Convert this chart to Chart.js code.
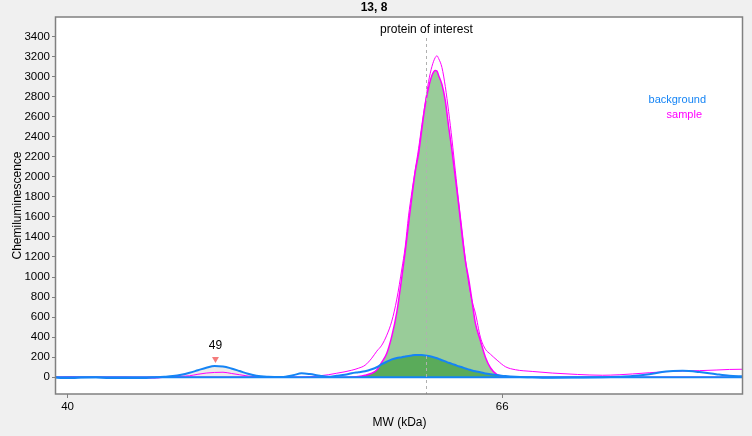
<!DOCTYPE html>
<html>
<head>
<meta charset="utf-8">
<script src="https://cdn.jsdelivr.net/npm/chart.js@4.4.1/dist/chart.umd.min.js"></script>
<style>
  html, body { margin: 0; padding: 0; background: #f0f0f0; }
  #wrap { width: 752px; height: 436px; position: relative; }
</style>
</head>
<body>
<div id="wrap"><canvas id="c"></canvas></div>
<script>
// ---- data ----
const chartTitle = '13, 8';
const poiLabel = 'protein of interest';
const poiMW = 61.47;
const legendLabels = ['background', 'sample'];
const xTicks = [40, 66];
const yTicks = [0, 200, 400, 600, 800, 1000, 1200, 1400, 1600, 1800, 2000, 2200, 2400, 2600, 2800, 3000, 3200, 3400];
const xRange = [39.31, 80.41];
const yRange = [-167, 3594];

const mw = [39.3, 39.7, 40.3, 40.8, 41.7, 42.5, 43.5, 44.7, 45.3, 45.8, 46.3, 46.8, 47.3, 47.8, 48.3, 48.8, 49.3, 49.8, 50.3, 50.8,
  51.3, 52.0, 52.8, 53.5, 54.0, 54.5, 55.1, 55.6, 56.1, 56.6, 57.0, 57.4, 57.8, 58.2, 58.5, 58.8, 59.1, 59.4, 59.7, 60.0,
  60.2, 60.4, 60.6, 60.8, 61.0, 61.2, 61.4, 61.6, 61.8, 62.0, 62.1, 62.2, 62.4, 62.6, 62.8, 63.0, 63.2, 63.4, 63.6, 63.8,
  64.0, 64.2, 64.4, 64.7, 65.0, 65.3, 65.7, 66.2, 66.8, 67.8, 69.0, 70.5, 72.0, 73.0, 73.8, 74.8, 75.8, 76.8, 77.8, 78.8,
  79.6, 80.4];

const sampleValues = [0, 2, 5, 0, 0, 0, 0, -8, -8, 0, 5, 10, 15, 30, 42, 48, 50, 38, 25, 12,
  5, 2, 0, 0, 0, 5, 15, 25, 40, 55, 70, 90, 120, 190, 260, 320, 420, 560, 780, 1080,
  1300, 1610, 1850, 2070, 2280, 2520, 2740, 2950, 3100, 3190, 3207, 3180, 3090, 2900, 2650, 2370, 2060, 1750, 1470, 1180,
  940, 760, 640, 400, 280, 230, 170, 105, 75, 58, 42, 28, 20, 25, 33, 45, 56, 62, 66, 72,
  78, 80];

const fitValues = [0, 0, 0, 0, 0, 0, 0, 0, 0, 0, 0, 0, 0, 0, 0, 0, 0, 0, 0, 0,
  0, 0, 0, 0, 0, 0, 0, 0, 0, 0, 3, 8, 20, 40, 73, 150, 240, 410, 650, 1000,
  1250, 1530, 1800, 2050, 2230, 2480, 2720, 2890, 3010, 3060, 3055, 3010, 2920, 2760, 2500, 2260, 1990, 1720, 1420, 1160,
  980, 760, 540, 365, 200, 95, 25, 5, 0, 0, 0, 0, 0, 0, 0, 0, 0, 0, 0, 0,
  0, 0];

const backgroundValues = [-3, -8, -8, -3, 0, -8, -8, -8, 0, 5, 12, 25, 45, 70, 95, 112, 108, 88, 62, 35,
  15, 5, 2, 20, 40, 32, 15, 5, 15, 25, 40, 50, 60, 80, 100, 130, 155, 178, 192, 200,
  207, 213, 218, 222, 223, 222, 218, 212, 204, 195, 190, 184, 170, 158, 145, 133, 122, 110, 100, 88,
  78, 68, 60, 50, 38, 30, 22, 12, 5, 0, -5, -3, 0, 5, 12, 30, 58, 64, 52, 30,
  15, 10];

const baselineMW = [39.31, 80.41];
const baselineValues = [0, 0];
const peak49Range = [45.3, 52.8];
const markerMW = [48.85];
const markerValues = [183];
const markerLabels = ['49'];

// ---- build library data ----
const pts = (xs, ys) => xs.map((x, i) => ({ x: x, y: ys[i] }));
const darkGreen = mw.map((x, i) => ({ x: x, y: Math.max(0, Math.min(fitValues[i], backgroundValues[i])) }));
const grey49 = mw.map((x, i) => ({ x: x, y: backgroundValues[i] })).filter(p => p.x >= peak49Range[0] && p.x <= peak49Range[1]);

const BLUE = '#1584f5';
const MAGENTA = '#ff00ff';
const FONT = "'Liberation Sans', Arial, sans-serif";

const deco = {
  id: 'deco',
  beforeDraw(chart) {
    const { ctx, chartArea: a } = chart;
    ctx.save();
    ctx.fillStyle = '#f0f0f0';
    ctx.fillRect(0, 0, chart.width, chart.height);
    ctx.fillStyle = '#ffffff';
    ctx.fillRect(a.left, a.top, a.right - a.left, a.bottom - a.top);
    ctx.restore();
  },
  afterDatasetsDraw(chart) {
    const { ctx, chartArea: a, scales } = chart;
    const px = scales.x.getPixelForValue(poiMW);
    ctx.save();
    ctx.strokeStyle = '#b0b0b0';
    ctx.lineWidth = 1;
    ctx.setLineDash([3, 3]);
    ctx.beginPath();
    ctx.moveTo(Math.round(px) + 0.5, a.top + 21);
    ctx.lineTo(Math.round(px) + 0.5, a.bottom);
    ctx.stroke();
    ctx.restore();
  },
  afterDraw(chart) {
    const { ctx, chartArea: a, scales } = chart;
    ctx.save();
    ctx.strokeStyle = '#808080';
    ctx.lineWidth = 1.5;
    ctx.strokeRect(a.left - 0.5, a.top, a.right - a.left, a.bottom - a.top);
    ctx.textAlign = 'center';
    ctx.textBaseline = 'middle';
    ctx.fillStyle = '#000';
    ctx.font = 'bold 12px ' + FONT;
    ctx.fillText(chartTitle, 374, 8);
    ctx.font = '12px ' + FONT;
    ctx.fillText(poiLabel, scales.x.getPixelForValue(poiMW), 30);
    markerMW.forEach((m, i) => {
      ctx.fillText(markerLabels[i], scales.x.getPixelForValue(m), scales.y.getPixelForValue(markerValues[i]) - 13);
    });
    ctx.font = '11px ' + FONT;
    ctx.textAlign = 'right';
    ctx.fillStyle = BLUE;
    ctx.fillText(legendLabels[0], a.right - 37, 100);
    ctx.fillStyle = MAGENTA;
    ctx.fillText(legendLabels[1], a.right - 41, 115);
    ctx.restore();
  }
};

const lineBase = { type: 'line', pointRadius: 0, cubicInterpolationMode: 'monotone', fill: false };

new Chart(document.getElementById('c'), {
  type: 'line',
  data: {
    datasets: [
      { type: 'scatter', data: pts(markerMW, markerValues), pointStyle: 'triangle', rotation: 180, pointRadius: 4,
        backgroundColor: '#f47c7c', borderColor: '#f47c7c', borderWidth: 0 },
      Object.assign({}, lineBase, { data: pts(baselineMW, baselineValues), borderColor: BLUE, borderWidth: 2 }),
      Object.assign({}, lineBase, { data: pts(mw, backgroundValues), borderColor: BLUE, borderWidth: 2 }),
      Object.assign({}, lineBase, { data: pts(mw, sampleValues), borderColor: MAGENTA, borderWidth: 1 }),
      Object.assign({}, lineBase, { data: pts(mw, fitValues), borderColor: MAGENTA, borderWidth: 1.5 }),
      Object.assign({}, lineBase, { data: darkGreen, borderWidth: 0, borderColor: 'rgba(0,0,0,0)', fill: 'origin', backgroundColor: '#5aab5a' }),
      Object.assign({}, lineBase, { data: grey49, borderWidth: 0, borderColor: 'rgba(0,0,0,0)', fill: 'origin', backgroundColor: '#ebebeb' }),
      Object.assign({}, lineBase, { data: pts(mw, fitValues), borderWidth: 0, borderColor: 'rgba(0,0,0,0)', fill: 'origin', backgroundColor: '#99cc99' })
    ]
  },
  options: {
    responsive: true,
    maintainAspectRatio: false,
    animation: false,
    events: [],
    layout: { padding: { left: 0, right: 9, top: 17, bottom: 0 } },
    plugins: { legend: { display: false }, tooltip: { enabled: false }, title: { display: false } },
    scales: {
      x: {
        type: 'linear', min: xRange[0], max: xRange[1],
        afterBuildTicks(s) { s.ticks = xTicks.map(v => ({ value: v })); },
        afterFit(s) { s.height = 42; },
        ticks: { color: '#000', font: { family: FONT, size: 11.5 }, padding: 2, autoSkip: false, maxRotation: 0,
                 callback: v => String(v) },
        grid: { drawOnChartArea: false, drawTicks: true, tickLength: 4, color: '#808080' },
        border: { display: false },
        title: { display: true, text: 'MW (kDa)', color: '#000', font: { family: FONT, size: 12 }, padding: { top: 0, bottom: 6 } }
      },
      y: {
        type: 'linear', min: yRange[0], max: yRange[1],
        afterBuildTicks(s) { s.ticks = yTicks.map(v => ({ value: v })); },
        afterFit(s) { s.width = 56; },
        ticks: { color: '#000', font: { family: FONT, size: 11.5 }, padding: 2, autoSkip: false,
                 callback: v => String(v) },
        grid: { drawOnChartArea: false, drawTicks: true, tickLength: 4, color: '#808080' },
        border: { display: false },
        title: { display: true, text: 'Chemiluminescence', color: '#000', font: { family: FONT, size: 12 }, padding: { top: 10, bottom: 0 } }
      }
    }
  },
  plugins: [deco]
});
</script>
</body>
</html>
